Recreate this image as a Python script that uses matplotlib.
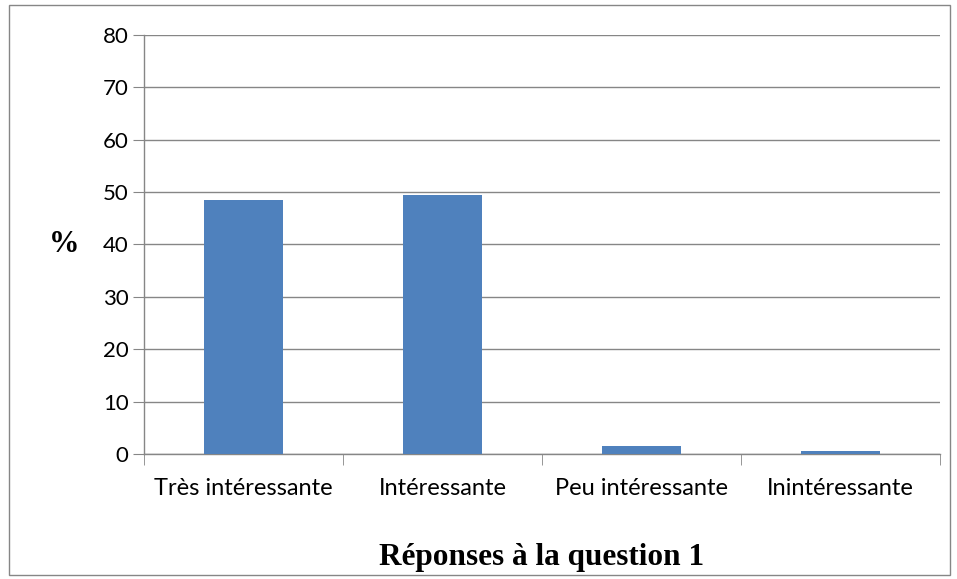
import numpy as np
import matplotlib.pyplot as plt
from matplotlib.patches import Rectangle

# Responses to question 1 (percent)
categories = ["Très intéressante", "Intéressante", "Peu intéressante", "Inintéressante"]
values = [48.5, 49.5, 1.5, 0.5]
yticks = [0, 10, 20, 30, 40, 50, 60, 70, 80]

W, H = 957, 579
fig = plt.figure(figsize=(W / 100, H / 100), dpi=100)
ax = fig.add_axes([144 / W, 1 - 454 / H, (940 - 144) / W, (454 - 35) / H])

x = np.arange(len(categories))
ax.bar(x, values, width=0.4, color="#4F81BD", zorder=3)

ax.set_xlim(-0.5, len(categories) - 0.5)
ax.set_ylim(0, 80)
ax.set_yticks(yticks)
ax.set_xticks(x)
ax.set_xticklabels(categories)
ax.set_xticks(np.arange(len(categories) + 1) - 0.5, minor=True)

grid_col = "#868686"
ax.yaxis.grid(True, color=grid_col, linewidth=1.0, zorder=0)
for s in ["top", "right"]:
    ax.spines[s].set_visible(False)
for s in ["left", "bottom"]:
    ax.spines[s].set_color(grid_col)
    ax.spines[s].set_linewidth(1.0)

ax.tick_params(axis="y", length=8, color=grid_col, labelsize=16, pad=3)
ax.tick_params(axis="x", which="major", length=0, labelsize=17, pad=17)
ax.tick_params(axis="x", which="minor", length=8, color=grid_col)
for lab in ax.get_xticklabels() + ax.get_yticklabels():
    lab.set_fontfamily("Lato")

ax.set_xlabel("Réponses à la question 1", fontfamily="Liberation Serif",
              fontweight="bold", fontsize=22.5, labelpad=32)
ax.set_ylabel("%", fontfamily="Liberation Serif", fontweight="bold",
              fontsize=22, rotation=0, labelpad=28, va="center")

# chart border
fig.patches.append(Rectangle((9 / W, 4 / H), (950 - 9) / W, (575 - 5) / H,
                             transform=fig.transFigure, fill=False,
                             edgecolor=grid_col, linewidth=1.0))

fig.savefig("out.png", dpi=100)
